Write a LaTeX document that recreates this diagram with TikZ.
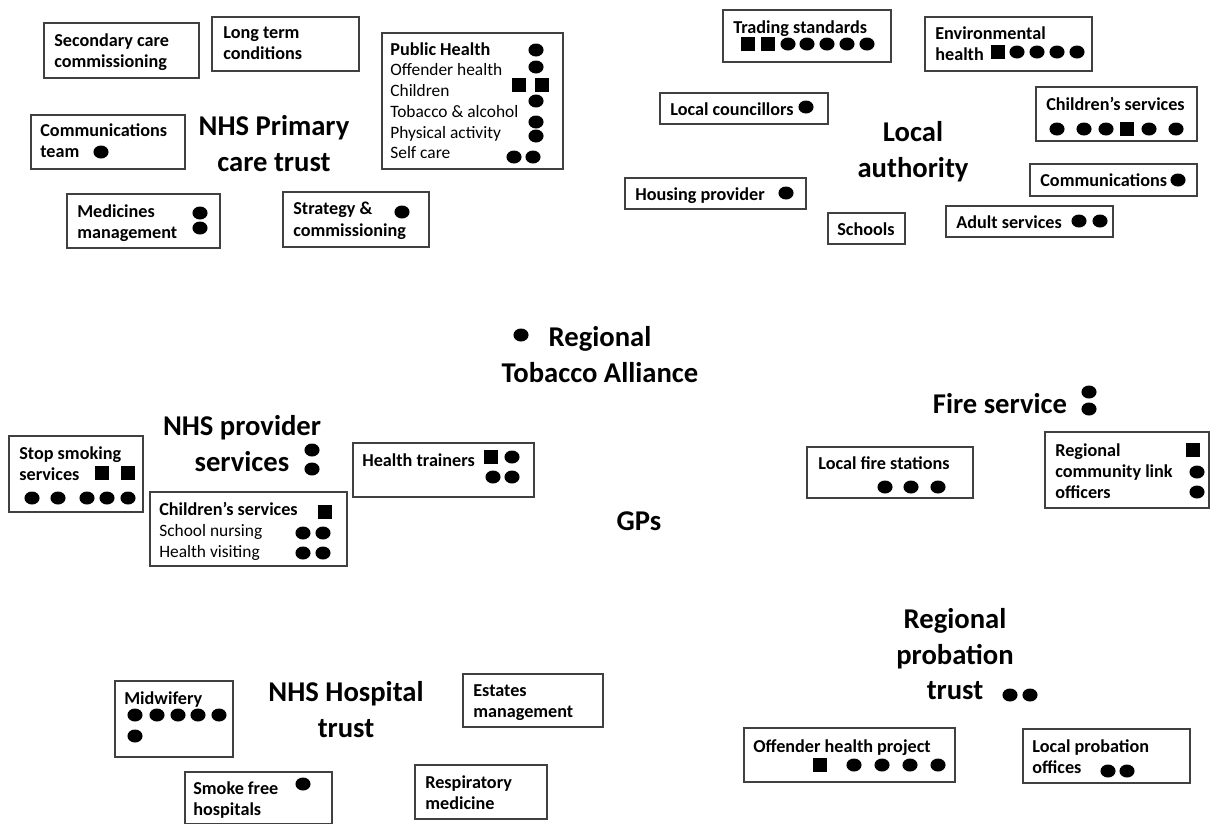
\documentclass[tikz,border=0pt]{standalone}
\usepackage{fontspec}
\setmainfont{Carlito}
\usetikzlibrary{shapes.geometric}

\tikzset{
  box/.style 2 args={draw=black!75, line width=0.7pt, rectangle, inner sep=0pt,
    minimum width=#1*0.02cm, minimum height=#2*0.02cm},
  lbl/.style={font=\bfseries\fontsize{10.35}{12}\selectfont, align=left,
    anchor=north west, inner sep=0pt},
  big/.style={font=\bfseries\fontsize{16.3}{20}\selectfont, align=center,
    anchor=north, inner sep=0pt},
  dot/.style={ellipse, fill=black, minimum width=8.6pt, minimum height=7.4pt, inner sep=0pt},
  sqr/.style={rectangle, fill=black, minimum size=7.6pt, inner sep=0pt}
}

\begin{document}
\begin{tikzpicture}[x=0.02cm, y=-0.02cm]
            \useasboundingbox (0,0) rectangle (1210,823);

            % NHS primary care trust
            \node[big] (pct) at (274,115.5) {NHS Primary\\care trust};
            \node[box={155}{55}] (sec) at (121.5,50.5) {};
            \node[lbl] (sec-t) at (54,33) {Secondary care\\commissioning};
            \node[box={147}{54}] (ltc) at (285.5,44) {};
            \node[lbl] (ltc-t) at (223,26) {Long term\\conditions};
            \node[box={181}{136}] (ph) at (472.5,101) {};
            \node[lbl, font=\fontsize{9.9}{11.8}\selectfont] (ph-t) at (390,42)
              {\fontsize{10.35}{11.8}\selectfont\textbf{Public Health}\\Offender health\\Children\\Tobacco \& alcohol\\Physical activity\\Self care};
            \node[dot] (ph-d1) at (536,50) {};
            \node[dot] (ph-d2) at (536,67) {};
            \node[sqr] (ph-s1) at (519,85) {};
            \node[sqr] (ph-s2) at (542,85) {};
            \node[dot] (ph-d3) at (536,101) {};
            \node[dot] (ph-d4) at (536,122) {};
            \node[dot] (ph-d5) at (536,136) {};
            \node[dot] (ph-d6) at (514,157) {};
            \node[dot] (ph-d7) at (533,157) {};
            \node[box={154}{54}] (comm) at (108,142) {};
            \node[lbl] (comm-t) at (40,123) {Communications\\team};
            \node[dot] (comm-d) at (101,152) {};
            \node[box={153}{54}] (med) at (143.5,221) {};
            \node[lbl] (med-t) at (77,204) {Medicines\\management};
            \node[dot] (med-d1) at (200,213) {};
            \node[dot] (med-d2) at (200,228) {};
            \node[box={146}{55}] (strat) at (356,219.5) {};
            \node[lbl] (strat-t) at (293,202) {Strategy \&\\commissioning};
            \node[dot] (strat-d) at (402,212) {};

            % local authority
            \node[big] (la) at (913,121.5) {Local\\authority};
            \node[box={168}{52}] (ts) at (807,36) {};
            \node[lbl] (ts-t) at (733,20) {Trading standards};
            \node[sqr] (ts-s1) at (748,44) {};
            \node[sqr] (ts-s2) at (768,44) {};
            \foreach \x [count=\i] in {788,807,827,847,867}
              \node[dot] (ts-d\i) at (\x,44) {};
            \node[box={167}{54}] (env) at (1008.5,44) {};
            \node[lbl] (env-t) at (935,26) {Environmental\\health};
            \node[sqr] (env-s) at (998,52) {};
            \foreach \x [count=\i] in {1017,1037,1057,1077}
              \node[dot] (env-d\i) at (\x,52) {};
            \node[box={168}{31}] (lc) at (744,108.5) {};
            \node[lbl] (lc-t) at (670,102) {Local councillors};
            \node[dot] (lc-d) at (806,107) {};
            \node[box={161}{54}] (lachild) at (1116.5,114) {};
            \node[lbl] (lachild-t) at (1046,97) {Children’s services};
            \foreach \x [count=\i] in {1057,1084,1106,1149,1176}
              \node[dot] (lachild-d\i) at (\x,129) {};
            \node[sqr] (lachild-s) at (1127,129) {};
            \node[box={167}{32}] (lacomm) at (1113.5,180) {};
            \node[lbl] (lacomm-t) at (1040,173) {Communications};
            \node[dot] (lacomm-d) at (1178,180) {};
            \node[box={181}{31}] (hous) at (715.5,193.5) {};
            \node[lbl] (hous-t) at (635,187) {Housing provider};
            \node[dot] (hous-d) at (786,193) {};
            \node[box={77}{31}] (sch) at (866.5,228.5) {};
            \node[lbl] (sch-t) at (837,222) {Schools};
            \node[box={167}{31}] (adult) at (1029.5,221.5) {};
            \node[lbl] (adult-t) at (956,215) {Adult services};
            \node[dot] (adult-d1) at (1079,221) {};
            \node[dot] (adult-d2) at (1100,221) {};

            % regional alliance and GPs
            \node[big] (rta) at (600,326.5) {Regional\\Tobacco Alliance};
            \node[dot] (rta-d) at (521,335) {};
            \node[big] (gp) at (639,511.5) {GPs};

            % NHS provider services
            \node[big] (prov) at (242,415.5) {NHS provider\\services};
            \node[dot] (prov-d1) at (312,450) {};
            \node[dot] (prov-d2) at (312,469) {};
            \node[box={134}{76}] (ssm) at (76,474) {};
            \node[lbl] (ssm-t) at (19,446) {Stop smoking\\services};
            \node[sqr] (ssm-s1) at (102,473) {};
            \node[sqr] (ssm-s2) at (128,473) {};
            \foreach \x [count=\i] in {32,58,87,107,128}
              \node[dot] (ssm-d\i) at (\x,498) {};
            \node[box={197}{74}] (provchild) at (248.5,529) {};
            \node[lbl, font=\fontsize{9.9}{12}\selectfont] (provchild-t) at (159,502)
              {\fontsize{10.35}{12}\selectfont\textbf{Children’s services}\\School nursing\\Health visiting};
            \node[sqr] (provchild-s) at (325,512) {};
            \node[dot] (provchild-d1) at (303,533) {};
            \node[dot] (provchild-d2) at (323,533) {};
            \node[dot] (provchild-d3) at (303,553) {};
            \node[dot] (provchild-d4) at (323,553) {};
            \node[box={181}{54}] (ht) at (443.5,470) {};
            \node[lbl] (ht-t) at (362,453) {Health trainers};
            \node[sqr] (ht-s) at (491,457) {};
            \node[dot] (ht-d1) at (512,457) {};
            \node[dot] (ht-d2) at (493,477) {};
            \node[dot] (ht-d3) at (512,477) {};

            % fire service
            \node[big] (fire) at (1000,393.5) {Fire service};
            \node[dot] (fire-d1) at (1089,392) {};
            \node[dot] (fire-d2) at (1089,409) {};
            \node[box={166}{51}] (lfs) at (890,472.5) {};
            \node[lbl] (lfs-t) at (818,456) {Local fire stations};
            \foreach \x [count=\i] in {885,911,938}
              \node[dot] (lfs-d\i) at (\x,487) {};
            \node[box={164}{76}] (rclo) at (1127,470) {};
            \node[lbl] (rclo-t) at (1055,443) {Regional\\community link\\officers};
            \node[sqr] (rclo-s) at (1193,450) {};
            \node[dot] (rclo-d1) at (1197,472) {};
            \node[dot] (rclo-d2) at (1197,492) {};

            % NHS hospital trust
            \node[big] (hosp) at (346,681.5) {NHS Hospital\\trust};
            \node[box={118}{76}] (mid) at (174,719) {};
            \node[lbl] (mid-t) at (124,691) {Midwifery};
            \foreach \x [count=\i] in {135,157,178,198,219}
              \node[dot] (mid-d\i) at (\x,715) {};
            \node[dot] (mid-d6) at (135,736) {};
            \node[box={140}{53}] (est) at (533,700.5) {};
            \node[lbl] (est-t) at (473,684) {Estates\\management};
            \node[box={147}{52}] (sfh) at (258.5,798) {};
            \node[lbl] (sfh-t) at (193,781) {Smoke free\\hospitals};
            \node[dot] (sfh-d) at (303,784) {};
            \node[box={132}{54}] (resp) at (481,792) {};
            \node[lbl] (resp-t) at (425,775) {Respiratory\\medicine};

            % probation
            \node[big] (prob) at (955,608.5) {Regional\\probation\\trust};
            \node[dot] (prob-d1) at (1010,695) {};
            \node[dot] (prob-d2) at (1030,695) {};
            \node[box={211}{54}] (ohp) at (849.5,755) {};
            \node[lbl] (ohp-t) at (753,739) {Offender health project};
            \node[sqr] (ohp-s) at (820,765) {};
            \foreach \x [count=\i] in {854,882,910,938}
              \node[dot] (ohp-d\i) at (\x,765) {};
            \node[box={167}{54}] (lpo) at (1106.5,756) {};
            \node[lbl] (lpo-t) at (1032,739) {Local probation\\offices};
            \node[dot] (lpo-d1) at (1108,771) {};
            \node[dot] (lpo-d2) at (1127,771) {};
          \end{tikzpicture}
\end{document}
